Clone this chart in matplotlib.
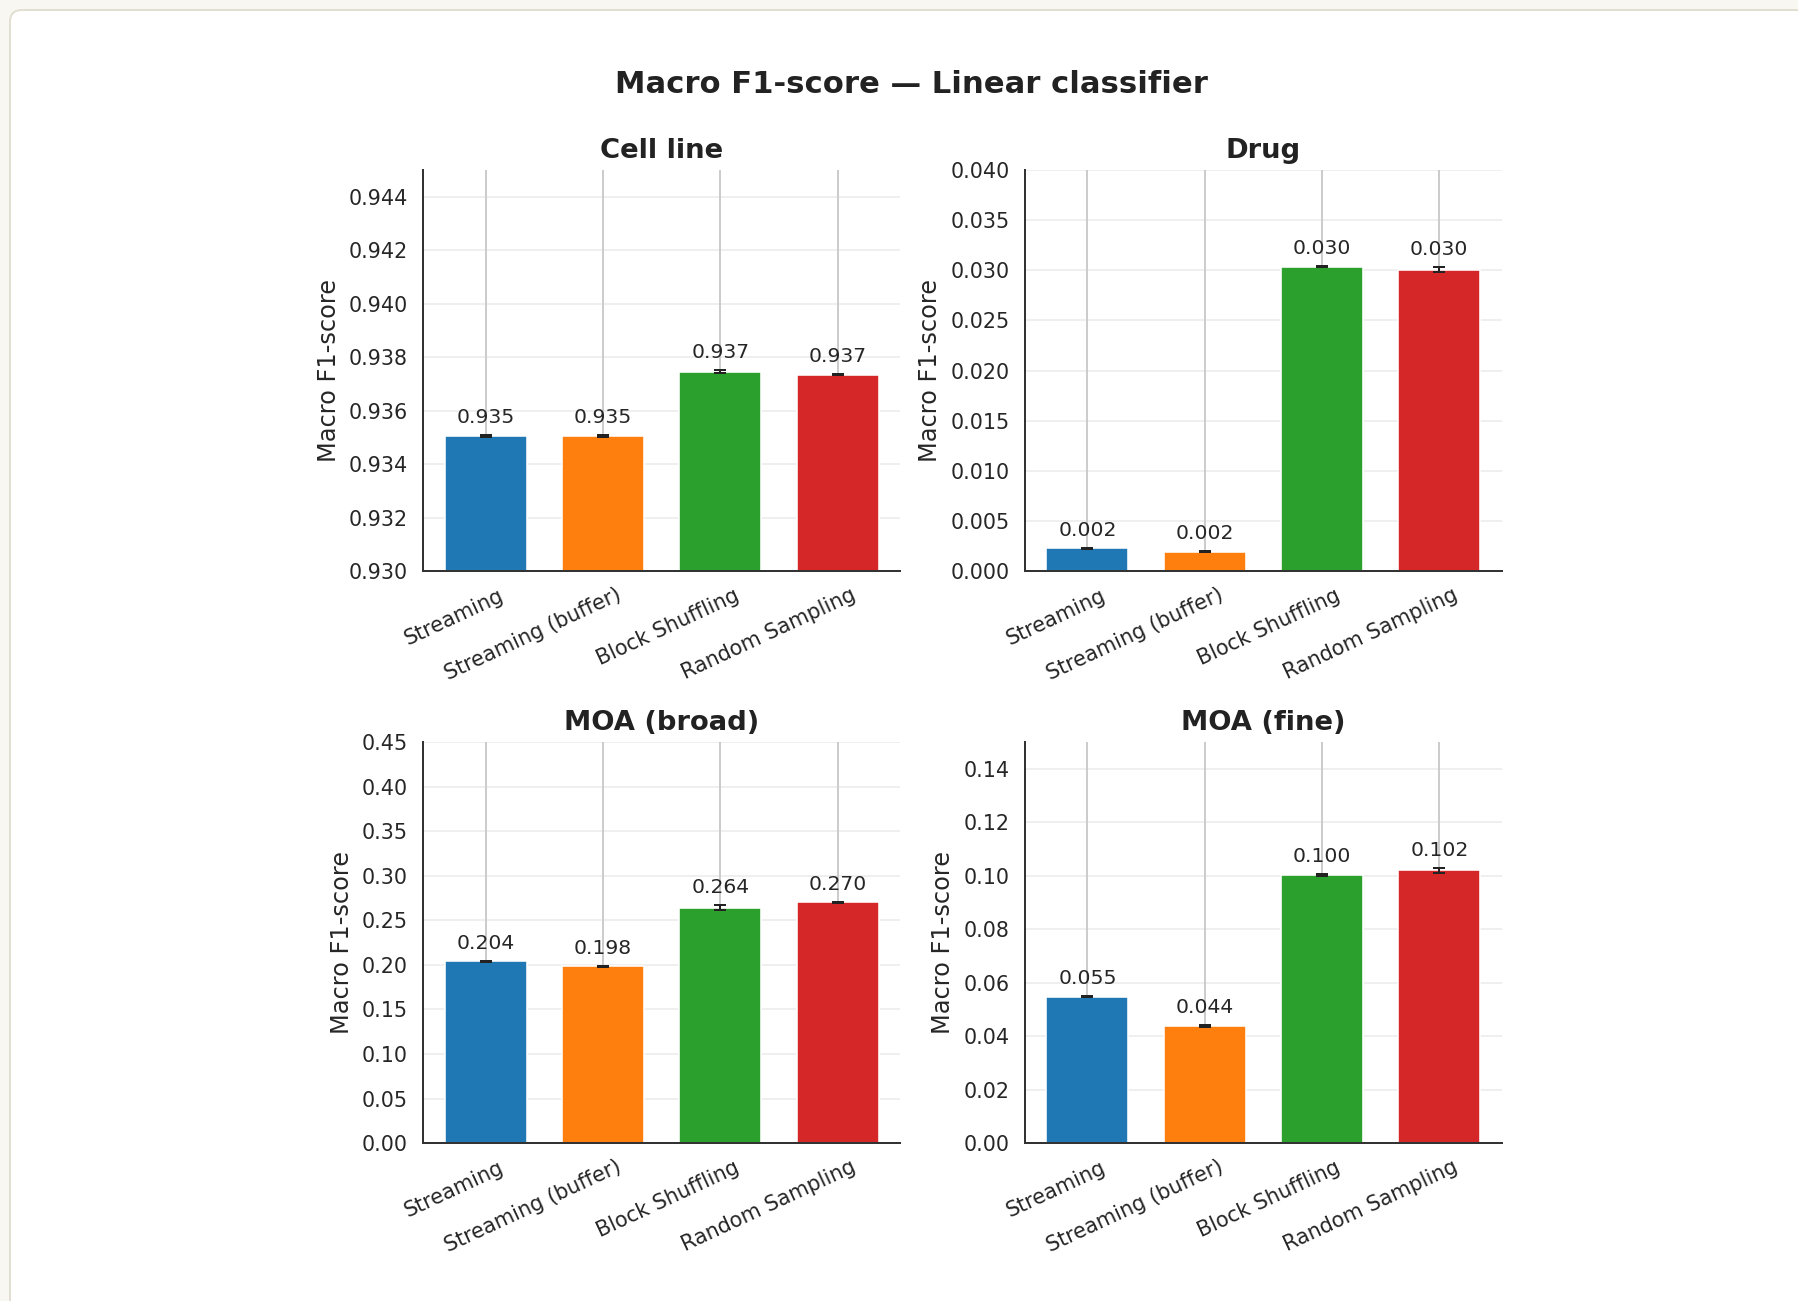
#!/usr/bin/env python3
"""Macro F1-score per label type, linear classifier, four loading strategies."""
import matplotlib
matplotlib.use("Agg")
import matplotlib.pyplot as plt
from matplotlib.patches import FancyBboxPatch
from matplotlib.ticker import MultipleLocator, FormatStrFormatter
from matplotlib.transforms import IdentityTransform, ScaledTranslation

STRATEGIES = ["Streaming", "Streaming (buffer)", "Block Shuffling", "Random Sampling"]
COLORS = ["#1f77b4", "#ff7f0e", "#2ca02c", "#d62728"]

TASKS = ["Cell line", "Drug", "MOA (broad)", "MOA (fine)"]
cell_mean = [0.93506, 0.93505, 0.93745, 0.93735]
cell_std = [0.00003, 0.00003, 0.00006, 0.00003]
drug_mean = [0.00225, 0.00192, 0.03037, 0.03007]
drug_std = [0.00005, 0.00005, 0.00005, 0.00025]
broad_mean = [0.2038, 0.1982, 0.2641, 0.2703]
broad_std = [0.0005, 0.0008, 0.0028, 0.0005]
fine_mean = [0.0548, 0.0437, 0.1003, 0.1020]
fine_std = [0.0003, 0.0003, 0.0004, 0.0008]

# (ylim, tick step, tick format)
YAX = [((0.930, 0.945), 0.002, "%.3f"),
       ((0.0, 0.040), 0.005, "%.3f"),
       ((0.0, 0.45), 0.05, "%.2f"),
       ((0.0, 0.15), 0.02, "%.2f")]

DPI = 144
W, H = 1798, 1301

plt.rcParams.update({
    "font.family": "DejaVu Sans",
    "axes.edgecolor": "#333333",
    "axes.linewidth": 1.0,
    "text.color": "#262626",
    "axes.labelcolor": "#262626",
    "xtick.color": "#262626",
    "ytick.color": "#262626",
    "xtick.major.size": 0,
    "ytick.major.size": 0,
    "xtick.major.pad": 7,
    "ytick.major.pad": 7.5,
    "xtick.labelsize": 10.4,
    "ytick.labelsize": 10.3,
})


def panel(ax, title, means, stds, yax):
    x = list(range(len(STRATEGIES)))
    ax.set_axisbelow(True)
    ax.grid(axis="x", color="#cccccc", lw=1.0)
    ax.grid(axis="y", color="#cccccc", lw=1.0, alpha=0.3)
    ax.bar(x, means, 0.7, color=COLORS, edgecolor="white", linewidth=0.8)
    ax.errorbar(x, means, yerr=stds, fmt="none", ecolor="#222222",
                elinewidth=1.0, capsize=3, capthick=1.0)
    for xi, m, s in zip(x, means, stds):
        ax.annotate(f"{m:.3f}", (xi, m + s), xytext=(0, 4), textcoords="offset points",
                    ha="center", va="bottom", fontsize=10.2, color="#262626")
    (lo, hi), step, fmt = yax
    ax.set_ylim(lo, hi)
    ax.yaxis.set_major_locator(MultipleLocator(step))
    ax.yaxis.set_major_formatter(FormatStrFormatter(fmt))
    ax.set_xticks(x)
    ax.set_xticklabels(STRATEGIES, rotation=25, ha="right", rotation_mode="anchor")
    off = ScaledTranslation(13 / DPI, 0, ax.figure.dpi_scale_trans)
    for lab in ax.get_xticklabels():
        lab.set_transform(lab.get_transform() + off)
    ax.set_ylabel("Macro F1-score", fontsize=12)
    ax.set_title(title, fontsize=13.7, fontweight="bold", color="#222222")
    for side in ("top", "right"):
        ax.spines[side].set_visible(False)


fig, axes = plt.subplots(2, 2, figsize=(W / DPI, H / DPI), dpi=DPI)
fig.patch.set_facecolor("#f8f7f1")
card = FancyBboxPatch((10, -60), 2000, H - 10 + 60,
                      boxstyle="round,pad=0,rounding_size=12",
                      transform=IdentityTransform(), facecolor="white",
                      edgecolor="#e2ded2", linewidth=1.0, zorder=-10)
fig.add_artist(card)
fig.subplots_adjust(left=0.2353, right=0.8354, top=0.8693, bottom=0.1214,
                    wspace=0.26, hspace=0.4264)

data = [(cell_mean, cell_std), (drug_mean, drug_std),
        (broad_mean, broad_std), (fine_mean, fine_std)]
for ax, title, (m, s), yax in zip(axes.flat, TASKS, data, YAX):
    panel(ax, title, m, s, yax)

fig.suptitle("Macro F1-score \u2014 Linear classifier", x=0.507, y=0.935, va="center",
             fontsize=15.3, fontweight="bold", color="#222222")

fig.savefig("out.png", dpi=DPI, facecolor=fig.get_facecolor())
